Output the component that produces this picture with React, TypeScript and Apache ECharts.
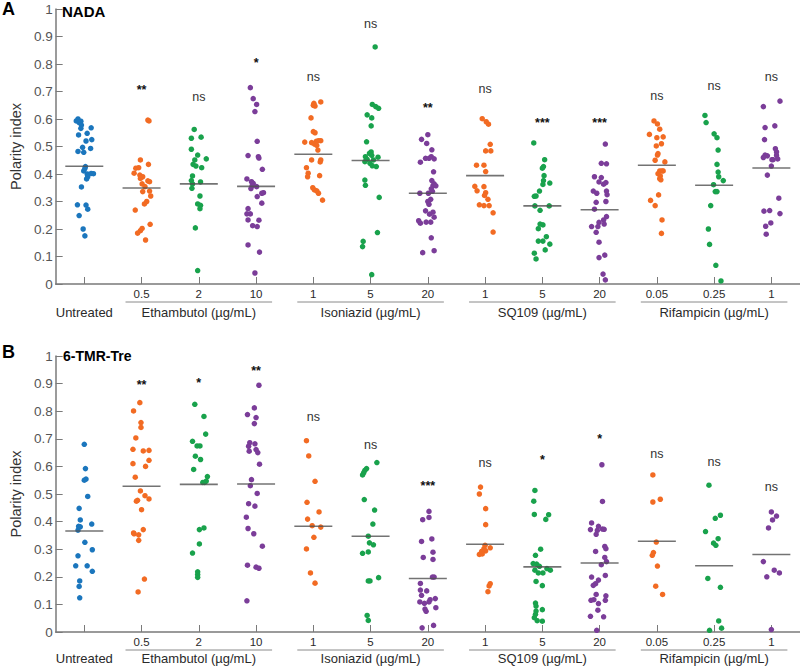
import React, { useEffect, useRef } from 'react';
import * as echarts from 'echarts';

// ---------- tick labels & groups ----------
const tickLabels = ['', '0.5', '2', '10', '1', '5', '20', '1', '5', '20', '0.05', '0.25', '1'];
const groupNames = ['Untreated', 'Ethambutol (µg/mL)', 'Isoniazid (µg/mL)', 'SQ109 (µg/mL)', 'Rifampicin (µg/mL)'];
const groupCenters = [0, 2, 5, 8, 11];
const groupSpans = [1, 3, 3, 3, 3];
// colour index per category: 0 blue, 1 orange, 2 green, 3 purple
const colorIndex = [0, 1, 2, 3, 1, 2, 3, 1, 2, 3, 1, 2, 3];
const palette = ['#1b76bd', '#f26b23', '#19a24c', '#7b3d99'];

// ---------- Panel A: NADA ([x-jitter within category, polarity index]) ----------
const nadaUntreated = [[-0.14,0.593],[-0.11,0.600],[-0.09,0.587],[-0.06,0.592],[-0.05,0.578],[-0.06,0.566],[0.12,0.568],[-0.10,0.542],[0.05,0.548],[0.03,0.520],[0.13,0.525],[-0.03,0.497],[0.11,0.493],[-0.11,0.482],[-0.01,0.479],[0.02,0.427],[0.01,0.420],[-0.01,0.411],[0.05,0.400],[0.12,0.402],[0.16,0.401],[0.06,0.390],[0.04,0.382],[-0.05,0.353],[-0.12,0.288],[0.03,0.287],[0.06,0.272],[-0.09,0.249],[-0.02,0.200],[0.01,0.175]];
const nadaEmb05 = [[0.11,0.596],[0.13,0.593],[-0.02,0.451],[0.12,0.435],[-0.10,0.421],[-0.05,0.423],[-0.13,0.403],[-0.03,0.396],[0.02,0.390],[-0.02,0.384],[0.11,0.375],[0.14,0.372],[0.01,0.364],[0.06,0.354],[0.14,0.338],[0.02,0.336],[0.16,0.320],[0.09,0.300],[0.05,0.291],[-0.11,0.269],[0.15,0.217],[0.01,0.202],[-0.02,0.194],[-0.07,0.185],[0.07,0.160]];
const nadaEmb2 = [[-0.08,0.562],[-0.13,0.530],[0.04,0.534],[-0.13,0.490],[-0.02,0.469],[0.13,0.455],[-0.07,0.451],[-0.10,0.435],[-0.05,0.429],[0.05,0.423],[-0.11,0.393],[0.03,0.371],[-0.13,0.376],[-0.12,0.348],[0.02,0.320],[-0.02,0.291],[0.03,0.286],[0.02,0.274],[-0.06,0.204],[-0.02,0.049],[-0.11,0.364]];
const nadaEmb10 = [[-0.10,0.714],[-0.05,0.674],[0.01,0.653],[-0.02,0.627],[0.02,0.519],[-0.14,0.467],[0.04,0.463],[0.05,0.458],[0.11,0.417],[-0.16,0.382],[-0.08,0.372],[-0.05,0.366],[-0.07,0.357],[0.01,0.354],[-0.09,0.347],[0.13,0.332],[0.10,0.330],[0.02,0.318],[0.10,0.294],[-0.14,0.274],[-0.16,0.255],[-0.10,0.255],[-0.14,0.233],[-0.06,0.212],[0.02,0.209],[0.05,0.232],[-0.14,0.142],[0.06,0.116],[-0.02,0.040]];
const nadaInh1 = [[0.13,0.662],[0.01,0.657],[0.03,0.647],[0,0.650],[-0.04,0.604],[0,0.554],[0.03,0.550],[0.13,0.521],[0.09,0.521],[0.05,0.519],[-0.15,0.516],[-0.03,0.514],[0.02,0.509],[0.06,0.504],[0.08,0.487],[-0.03,0.451],[0.13,0.451],[0.12,0.444],[-0.12,0.423],[-0.09,0.403],[-0.10,0.390],[0.11,0.394],[-0.01,0.350],[0.02,0.342],[0.06,0.339],[0.09,0.330],[0.16,0.305]];
const nadaInh5 = [[0.08,0.862],[0.03,0.653],[0.09,0.645],[0.14,0.639],[-0.06,0.615],[0.02,0.604],[0.01,0.575],[-0.07,0.517],[0.01,0.480],[-0.02,0.475],[0.02,0.468],[-0.09,0.463],[0.13,0.461],[-0.06,0.453],[0.05,0.451],[-0.10,0.445],[-0.01,0.439],[0.10,0.427],[0.03,0.430],[-0.10,0.378],[-0.09,0.359],[0.15,0.315],[0.12,0.187],[-0.13,0.155],[-0.14,0.136],[0.02,0.034]];
const nadaInh20 = [[0,0.543],[-0.11,0.526],[-0.02,0.511],[0.07,0.488],[-0.04,0.457],[0.02,0.457],[0.06,0.463],[0.11,0.455],[-0.13,0.443],[0.10,0.408],[0.07,0.376],[0.11,0.364],[0.09,0.358],[0.14,0.357],[0.06,0.346],[-0.14,0.330],[0.01,0.330],[0.08,0.337],[0.05,0.308],[0,0.300],[0.02,0.290],[-0.04,0.266],[0.09,0.261],[0.03,0.254],[0.11,0.243],[-0.16,0.230],[-0.13,0.221],[-0.03,0.225],[0.05,0.225],[0.06,0.168],[-0.09,0.114],[0.11,0.121]];
const nadaSq1 = [[-0.05,0.601],[0.02,0.590],[0.06,0.581],[0.09,0.508],[0.01,0.484],[0.10,0.484],[-0.15,0.432],[-0.02,0.432],[0.01,0.409],[-0.18,0.355],[-0.02,0.354],[-0.14,0.339],[0.01,0.332],[-0.01,0.322],[0.05,0.308],[-0.10,0.288],[-0.02,0.285],[0.07,0.285],[0.14,0.259],[0.14,0.189]];
const nadaSq5 = [[-0.15,0.513],[0.04,0.452],[0.02,0.427],[0,0.421],[0.03,0.394],[0.02,0.376],[0.13,0.367],[0.01,0.362],[-0.05,0.338],[-0.11,0.320],[-0.14,0.319],[-0.13,0.284],[0.12,0.284],[-0.04,0.268],[-0.04,0.218],[0.01,0.215],[-0.07,0.201],[0.07,0.172],[-0.07,0.156],[0.01,0.156],[0.13,0.145],[0.05,0.124],[-0.14,0.112],[-0.11,0.091]];
const nadaSq20 = [[0.10,0.509],[0.03,0.439],[0.12,0.437],[-0.09,0.390],[0.03,0.387],[-0.01,0.371],[0.11,0.369],[0.07,0.363],[-0.11,0.338],[0.12,0.338],[0.13,0.325],[-0.05,0.330],[-0.06,0.297],[0.11,0.300],[-0.09,0.272],[0.12,0.245],[0.07,0.233],[-0.01,0.224],[-0.14,0.209],[-0.03,0.209],[0.08,0.218],[-0.06,0.188],[-0.01,0.152],[0.09,0.105],[-0.01,0.096],[0.06,0.036],[0.10,0.015]];
const nadaRif005 = [[-0.05,0.593],[0.01,0.582],[0.05,0.563],[-0.13,0.544],[0,0.532],[0.11,0.535],[-0.01,0.502],[0.08,0.510],[0.02,0.474],[0.01,0.469],[-0.03,0.450],[0.14,0.444],[0.05,0.411],[0.09,0.411],[0.11,0.411],[0.02,0.401],[0.06,0.393],[0.05,0.383],[0.07,0.379],[0.03,0.324],[-0.11,0.304],[-0.03,0.285],[0.09,0.233],[0.08,0.184]];
const nadaRif025 = [[-0.16,0.613],[-0.14,0.587],[0,0.546],[0.05,0.532],[0.07,0.487],[0.05,0.435],[0.07,0.407],[0.08,0.390],[0.16,0.376],[-0.01,0.361],[0.02,0.336],[0.05,0.336],[-0.06,0.285],[-0.10,0.200],[-0.08,0.144],[0.03,0.068],[0.12,0.011]];
const nadaRif1 = [[0.15,0.665],[-0.14,0.645],[0.06,0.575],[-0.11,0.569],[-0.12,0.525],[0.07,0.492],[0.09,0.480],[-0.11,0.469],[0.09,0.468],[-0.07,0.466],[-0.14,0.460],[0.11,0.455],[0.03,0.452],[0.01,0.452],[0,0.429],[-0.07,0.396],[0.13,0.312],[-0.03,0.267],[-0.13,0.265],[0.15,0.256],[-0.01,0.222],[-0.10,0.210],[-0.09,0.181]];
const nadaMedians = [0.428, 0.349, 0.364, 0.355, 0.472, 0.449, 0.330, 0.394, 0.284, 0.270, 0.432, 0.359, 0.422];
const nadaSig = ['', '**', 'ns', '*', 'ns', 'ns', '**', 'ns', '***', '***', 'ns', 'ns', 'ns'];
const nadaSigY = [0, 0.72, 0.68, 0.818, 0.753, 0.945, 0.654, 0.709, 0.60, 0.60, 0.684, 0.72, 0.753];

// ---------- Panel B: 6-TMR-Tre ----------
const tmrUntreated = [[0,0.680],[0.02,0.592],[0.03,0.554],[0,0.550],[0.06,0.491],[-0.09,0.448],[-0.07,0.406],[0.13,0.391],[-0.10,0.383],[-0.07,0.381],[-0.11,0.369],[0.01,0.325],[0.14,0.298],[-0.11,0.276],[-0.15,0.240],[0.05,0.240],[0.14,0.220],[-0.08,0.185],[-0.09,0.165],[-0.08,0.124]];
const tmrEmb05 = [[-0.03,0.831],[-0.14,0.801],[-0.01,0.759],[-0.01,0.741],[-0.10,0.703],[-0.15,0.662],[0.13,0.658],[0.03,0.656],[0.13,0.622],[-0.15,0.610],[0.07,0.600],[-0.11,0.561],[-0.02,0.511],[0.06,0.494],[0.13,0.482],[-0.07,0.477],[-0.09,0.474],[0,0.443],[0.03,0.371],[-0.14,0.359],[-0.13,0.356],[-0.05,0.352],[-0.05,0.332],[0.05,0.192],[-0.06,0.145]];
const tmrEmb2 = [[-0.07,0.825],[0.09,0.781],[0.12,0.717],[-0.11,0.691],[-0.03,0.674],[0.02,0.674],[-0.06,0.637],[0.03,0.625],[-0.09,0.589],[0.15,0.563],[0.13,0.547],[0.10,0.542],[0.07,0.542],[0.01,0.371],[0.09,0.377],[0.01,0.319],[-0.11,0.286],[-0.02,0.218],[-0.02,0.208],[-0.02,0.198]];
const tmrEmb10 = [[0.05,0.894],[-0.03,0.812],[-0.15,0.788],[0,0.777],[-0.03,0.755],[-0.11,0.686],[-0.02,0.682],[-0.13,0.673],[0,0.661],[-0.12,0.655],[0.03,0.650],[0.06,0.608],[-0.08,0.552],[-0.10,0.530],[0.02,0.502],[-0.13,0.465],[-0.02,0.456],[-0.17,0.416],[-0.14,0.375],[-0.04,0.356],[0.11,0.311],[-0.15,0.242],[0,0.235],[0.05,0.231],[-0.16,0.113]];
const tmrInh1 = [[-0.12,0.693],[-0.08,0.638],[0.03,0.546],[-0.11,0.470],[0.10,0.435],[-0.10,0.409],[-0.02,0.385],[0.13,0.380],[0.01,0.343],[-0.12,0.301],[-0.05,0.214],[0.03,0.177]];
const tmrInh5 = [[0.11,0.614],[-0.07,0.592],[-0.10,0.586],[-0.12,0.577],[-0.14,0.569],[-0.11,0.480],[0.07,0.442],[0.04,0.391],[-0.04,0.347],[-0.02,0.323],[0.05,0.316],[-0.14,0.285],[-0.04,0.290],[0.14,0.197],[-0.04,0.185],[-0.01,0.185],[-0.06,0.060],[-0.04,0.042]];
const tmrInh20 = [[0.02,0.437],[-0.09,0.407],[0.02,0.415],[-0.11,0.328],[0.07,0.337],[-0.08,0.270],[0.09,0.289],[0.09,0.263],[0.11,0.199],[0.08,0.199],[-0.13,0.176],[-0.13,0.152],[-0.02,0.149],[-0.11,0.133],[0.04,0.117],[0.02,0.109],[0.13,0.121],[-0.14,0.109],[-0.06,0.104],[-0.05,0.083],[-0.03,0.075],[0.14,0.088],[-0.10,0.015],[0.10,0.024]];
const tmrSq1 = [[-0.08,0.525],[-0.10,0.500],[0.01,0.447],[0.01,0.389],[0,0.314],[0.09,0.305],[-0.02,0.302],[0.01,0.294],[-0.06,0.292],[-0.10,0.281],[-0.05,0.283],[0.09,0.175],[0.07,0.167],[0.05,0.146]];
const tmrSq5 = [[-0.13,0.513],[-0.15,0.474],[-0.14,0.426],[0.11,0.425],[0.06,0.408],[-0.03,0.300],[-0.12,0.278],[-0.16,0.248],[-0.10,0.246],[-0.05,0.238],[0.08,0.230],[-0.13,0.224],[-0.07,0.214],[0.01,0.214],[0.14,0.224],[-0.11,0.183],[0,0.168],[-0.12,0.105],[-0.11,0.094],[-0.11,0.076],[0,0.081],[-0.12,0.064],[-0.14,0.052],[-0.09,0.041],[0,0.039]];
const tmrSq20 = [[0.04,0.606],[0.05,0.473],[-0.14,0.395],[-0.02,0.383],[0.05,0.373],[-0.16,0.371],[-0.04,0.368],[0.08,0.372],[-0.06,0.354],[0.09,0.310],[0.11,0.302],[-0.07,0.292],[0.09,0.270],[0.12,0.255],[0.03,0.244],[0.10,0.205],[-0.14,0.199],[-0.02,0.188],[-0.07,0.175],[-0.11,0.169],[-0.06,0.136],[0.11,0.131],[-0.10,0.117],[-0.15,0.115],[0.10,0.115],[-0.02,0.103],[-0.03,0.079],[-0.16,0.057],[0.07,0.055],[-0.05,0.006]];
const tmrRif005 = [[-0.07,0.569],[0.06,0.481],[-0.07,0.471],[-0.01,0.326],[-0.06,0.288],[-0.08,0.278],[0.01,0.239],[-0.02,0.166],[0.10,0.136]];
const tmrRif025 = [[-0.09,0.532],[0.11,0.423],[0.02,0.412],[-0.15,0.364],[0.07,0.338],[-0.01,0.322],[0.03,0.314],[-0.11,0.194],[0.11,0.162],[0.08,0.040],[0.13,0.014],[-0.08,0.006]];
const tmrRif1 = [[0,0.435],[0.09,0.420],[0.02,0.406],[-0.05,0.377],[-0.14,0.255],[0.05,0.224],[0.14,0.214],[-0.08,0.200],[0,0.009]];
const tmrMedians = [0.366, 0.528, 0.535, 0.536, 0.383, 0.347, 0.194, 0.318, 0.236, 0.250, 0.329, 0.240, 0.281];
const tmrSig = ['', '**', '*', '**', 'ns', 'ns', '***', 'ns', '*', '*', 'ns', 'ns', 'ns'];
const tmrSigY = [0, 0.909, 0.915, 0.960, 0.779, 0.676, 0.540, 0.614, 0.637, 0.713, 0.644, 0.616, 0.525];

const nadaGroups = [nadaUntreated, nadaEmb05, nadaEmb2, nadaEmb10, nadaInh1, nadaInh5, nadaInh20, nadaSq1, nadaSq5, nadaSq20, nadaRif005, nadaRif025, nadaRif1];
const tmrGroups = [tmrUntreated, tmrEmb05, tmrEmb2, tmrEmb10, tmrInh1, tmrInh5, tmrInh20, tmrSq1, tmrSq5, tmrSq20, tmrRif005, tmrRif025, tmrRif1];

const FONT = '"Liberation Sans", Arial, Helvetica, sans-serif';
const AXIS_COLOR = '#7a7a7a';

function panelSeries(p: number, groups: number[][][], medians: number[], sig: string[], sigY: number[], labelDy: number) {
  const xi = p * 2 + 1; // hidden value x axis
  const yi = p;
  const series: any[] = [];
  groups.forEach((pts, i) => {
    series.push({
      type: 'scatter',
      xAxisIndex: xi,
      yAxisIndex: yi,
      symbol: 'circle',
      symbolSize: 5.5,
      clip: false,
      itemStyle: { color: palette[colorIndex[i]], opacity: 1 },
      data: pts.map(([j, v]) => [i + j, v]),
      z: 2,
    });
  });
  series.push({
    type: 'scatter',
    xAxisIndex: xi,
    yAxisIndex: yi,
    symbol: 'rect',
    symbolSize: [38, 1.6],
    clip: false,
    itemStyle: { color: '#505050' },
    data: medians.map((m, i) => [i, m]),
    z: 3,
  });
  series.push({
    type: 'custom',
    xAxisIndex: xi,
    yAxisIndex: yi,
    data: sig.map((s, i) => [i, sigY[i]]).filter((d, i) => sig[i] !== ''),
    renderItem: (params: any, api: any) => {
      const idx = api.value(0);
      const txt = sig[idx];
      const pt = api.coord([idx, api.value(1)]);
      const star = txt.charAt(0) === '*';
      return {
        type: 'text',
        x: pt[0],
        y: pt[1] + (star ? 3.5 : 0),
        style: {
          text: txt,
          fill: star ? '#111' : '#333',
          font: `${star ? 'bold ' : ''}12.5px ${FONT}`,
          align: 'center',
          verticalAlign: 'middle',
        },
      };
    },
    z: 4,
  });
  series.push({
    type: 'custom',
    xAxisIndex: xi,
    yAxisIndex: yi,
    clip: false,
    data: groupCenters.map((c, k) => [c, groupSpans[k], k]),
    renderItem: (params: any, api: any) => {
      const c = api.value(0);
      const span = api.value(1);
      const k = api.value(2);
      const pt = api.coord([c, 0]);
      const w = api.size([1, 0])[0];
      const children: any[] = [];
      if (span > 1) {
        const half = (span / 2 - 0.22) * w;
        children.push({
          type: 'line',
          shape: { x1: pt[0] - half, y1: pt[1] + 18, x2: pt[0] + half, y2: pt[1] + 18 },
          style: { stroke: '#8a8a8a', lineWidth: 1 },
        });
      }
      children.push({
        type: 'text',
        x: pt[0],
        y: pt[1] + labelDy,
        style: {
          text: groupNames[k],
          fill: '#2a2a2a',
          font: `13px ${FONT}`,
          align: 'center',
          verticalAlign: 'middle',
        },
      });
      return { type: 'group', children };
    },
  });
  return series;
}

function xAxes(g: number) {
  return [
    {
      type: 'category',
      gridIndex: g,
      data: tickLabels,
      boundaryGap: true,
      axisLine: { show: true, onZero: false, lineStyle: { color: AXIS_COLOR, width: 1.5 } },
      axisTick: { show: true, inside: true, alignWithLabel: true, interval: 0, length: 7, lineStyle: { color: AXIS_COLOR, width: 1 } },
      axisLabel: { interval: 0, fontSize: 11.5, color: '#2a2a2a', margin: 4, fontFamily: FONT },
      splitLine: { show: false },
    },
    { type: 'value', gridIndex: g, min: -0.5, max: 12.5, show: false, axisLine: { onZero: false }, splitLine: { show: false } },
  ];
}

function yAxis(g: number) {
  return {
    type: 'value',
    gridIndex: g,
    min: 0,
    max: 1,
    interval: 0.1,
    position: 'left',
    name: 'Polarity index',
    nameLocation: 'middle',
    nameGap: 31,
    nameTextStyle: { fontSize: 14.5, color: '#333', fontFamily: FONT },
    axisLine: { show: true, onZero: false, lineStyle: { color: AXIS_COLOR, width: 1.5 } },
    axisTick: { show: true, inside: true, length: 7, lineStyle: { color: AXIS_COLOR } },
    axisLabel: { fontSize: 13.5, color: '#555', margin: 3, fontFamily: FONT },
    splitLine: { show: false },
  };
}

export default function App() {
  const ref = useRef<HTMLDivElement>(null);
  useEffect(() => {
    if (!ref.current) return;
    const chart = echarts.init(ref.current, undefined, { renderer: 'svg' });
    chart.setOption({
      animation: false,
      textStyle: { fontFamily: FONT },
      grid: [
        { left: 46, right: 0, top: 9, height: 275 },
        { left: 46, right: 0, top: 356, height: 276 },
      ],
      xAxis: [...xAxes(0), ...xAxes(1)],
      yAxis: [yAxis(0), yAxis(1)],
      series: [
        ...panelSeries(0, nadaGroups, nadaMedians, nadaSig, nadaSigY, 28.5),
        ...panelSeries(1, tmrGroups, tmrMedians, tmrSig, tmrSigY, 26.5),
      ],
      graphic: [
        { type: 'text', left: 2, top: 0, style: { text: 'A', font: `bold 18px ${FONT}`, fill: '#000' } },
        { type: 'text', left: 62, top: 4, style: { text: 'NADA', font: `bold 15px ${FONT}`, fill: '#000' } },
        { type: 'text', left: 2, top: 343, style: { text: 'B', font: `bold 18px ${FONT}`, fill: '#000' } },
        { type: 'text', left: 63, top: 349, style: { text: '6-TMR-Tre', font: `bold 14px ${FONT}`, fill: '#000' } },
      ],
    });
    return () => chart.dispose();
  }, []);
  return <div ref={ref} style={{ position: 'absolute', left: 0, top: 0, width: 800, height: 666 }} />;
}
